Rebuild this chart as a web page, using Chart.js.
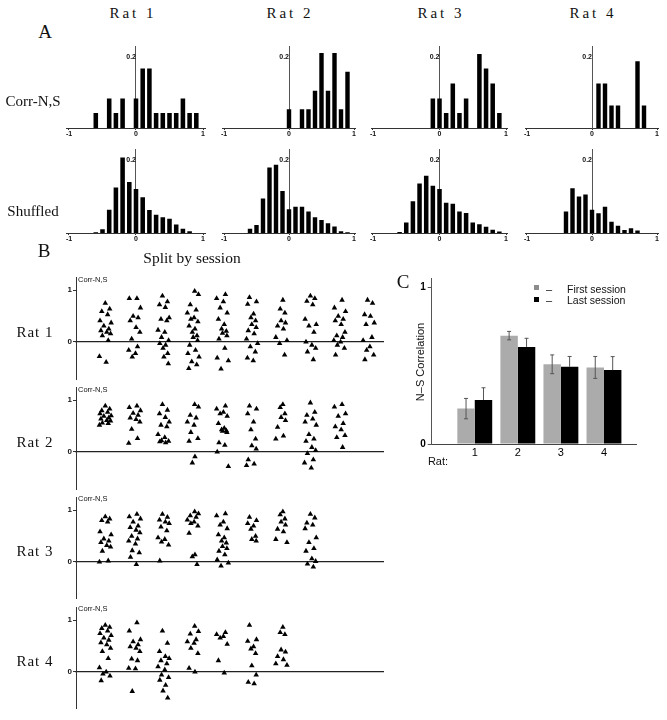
<!DOCTYPE html>
<html>
<head>
<meta charset="utf-8">
<script src="https://cdn.jsdelivr.net/npm/chart.js@4.4.1/dist/chart.umd.min.js"></script>
<style>
body { margin: 0; background: #fff; width: 667px; height: 720px; position: relative; overflow: hidden; }
canvas { position: absolute; }
.t { position: absolute; white-space: nowrap; line-height: 1; color: #111; }
.serif { font-family: "Liberation Serif", "Times New Roman", serif; font-size: 15px; }
.sans { font-family: "Liberation Sans", Arial, sans-serif; }
</style>
</head>
<body>
<script>
// ---- data ----
var RATS = ['Rat 1', 'Rat 2', 'Rat 3', 'Rat 4'];
var BINS = [-1, -0.9, -0.8, -0.7, -0.6, -0.5, -0.4, -0.3, -0.2, -0.1, 0, 0.1, 0.2, 0.3, 0.4, 0.5, 0.6, 0.7, 0.8, 0.9, 1];

// panel A, proportion of pairs per bin (Corr-N,S row)
var CORR_RAT1 = [0, 0, 0, 0, 0.042, 0, 0.083, 0.042, 0.083, 0, 0.083, 0.167, 0.167, 0.042, 0.042, 0.042, 0.042, 0.083, 0.042, 0.042, 0];
var CORR_RAT2 = [0, 0, 0, 0, 0, 0, 0, 0, 0, 0, 0.053, 0, 0.053, 0.053, 0.105, 0.211, 0.105, 0.211, 0.053, 0.158, 0];
var CORR_RAT3 = [0, 0, 0, 0, 0, 0, 0, 0, 0, 0.083, 0.083, 0.042, 0.125, 0.042, 0.083, 0, 0.208, 0.167, 0.125, 0.042, 0];
var CORR_RAT4 = [0, 0, 0, 0, 0, 0, 0, 0, 0, 0, 0, 0.125, 0.125, 0.063, 0.063, 0, 0, 0.188, 0.063, 0, 0];

// panel A, shuffled row
var SHUF_RAT1 = [0, 0, 0, 0, 0.002, 0.01, 0.064, 0.125, 0.207, 0.14, 0.121, 0.098, 0.063, 0.05, 0.043, 0.039, 0.023, 0.012, 0.005, 0, 0];
var SHUF_RAT2 = [0, 0, 0, 0, 0.012, 0.022, 0.095, 0.18, 0.187, 0.115, 0.065, 0.072, 0.072, 0.059, 0.043, 0.036, 0.027, 0.018, 0.005, 0.002, 0];
var SHUF_RAT3 = [0, 0, 0, 0, 0.003, 0.029, 0.087, 0.136, 0.157, 0.13, 0.121, 0.083, 0.08, 0.059, 0.055, 0.029, 0.024, 0.017, 0.009, 0.004, 0];
var SHUF_RAT4 = [0, 0, 0, 0, 0, 0, 0.059, 0.123, 0.1, 0.106, 0.064, 0.054, 0.072, 0.031, 0.02, 0.008, 0.013, 0.007, 0, 0, 0];

// panel B, correlation values per session
var RAT1_SESSIONS = [
  [0.75, 0.64, 0.59, 0.53, 0.41, 0.37, 0.31, 0.25, 0.22, 0.19, 0.16, 0.12, 0.03, -0.28, -0.39],
  [0.84, 0.84, 0.66, 0.5, 0.47, 0.41, 0.28, 0.19, 0.06, -0.09, -0.16, -0.22, -0.29],
  [0.89, 0.78, 0.72, 0.67, 0.47, 0.44, 0.41, 0.23, 0.19, 0.09, 0.03, -0.03, -0.06, -0.12, -0.22, -0.29, -0.42],
  [0.98, 0.92, 0.72, 0.62, 0.56, 0.47, 0.44, 0.39, 0.31, 0.25, 0.19, 0.12, 0.09, 0.03, -0.06, -0.16, -0.22, -0.29, -0.38, -0.44, -0.51],
  [0.92, 0.84, 0.78, 0.66, 0.56, 0.44, 0.34, 0.25, 0.21, 0.17, 0.12, 0.06, -0.12, -0.31, -0.36, -0.52],
  [0.86, 0.78, 0.73, 0.54, 0.47, 0.41, 0.34, 0.28, 0.22, 0.16, 0.06, -0.03, -0.09, -0.19, -0.31, -0.36],
  [0.81, 0.64, 0.56, 0.41, 0.37, 0.31, 0.25, 0.09, 0.03, -0.03, -0.25],
  [0.89, 0.84, 0.79, 0.72, 0.44, 0.34, 0.31, 0.19, 0.0, -0.06, -0.12, -0.19, -0.34],
  [0.81, 0.66, 0.59, 0.5, 0.44, 0.41, 0.34, 0.19, 0.12, 0.09, 0.03, 0.0, -0.06, -0.12, -0.25],
  [0.81, 0.75, 0.53, 0.5, 0.37, 0.34, 0.09, 0.03, -0.09, -0.16, -0.25, -0.34]
];
var RAT2_SESSIONS = [
  [0.89, 0.83, 0.8, 0.77, 0.74, 0.7, 0.69, 0.66, 0.64, 0.61, 0.6, 0.56, 0.55, 0.52],
  [0.89, 0.86, 0.8, 0.75, 0.71, 0.66, 0.63, 0.58, 0.44, 0.26, 0.17],
  [0.92, 0.81, 0.74, 0.67, 0.58, 0.52, 0.49, 0.34, 0.28, 0.22, 0.21, 0.2, 0.18],
  [0.92, 0.87, 0.71, 0.66, 0.58, 0.52, 0.38, 0.26, 0.21, -0.09, -0.21],
  [0.89, 0.83, 0.77, 0.74, 0.69, 0.55, 0.46, 0.43, 0.41, 0.4, 0.38, 0.18, 0.13, 0.0, -0.28],
  [0.89, 0.83, 0.74, 0.58, 0.43, 0.25, 0.12, 0.06, -0.15, -0.23, -0.26],
  [0.92, 0.86, 0.74, 0.67, 0.61, 0.48, 0.31, 0.25],
  [0.95, 0.77, 0.71, 0.64, 0.58, 0.52, 0.34, 0.25, 0.21, 0.09, 0.03, -0.03, -0.15, -0.21, -0.31],
  [0.92, 0.87, 0.74, 0.69, 0.55, 0.49, 0.43, 0.32, 0.28, 0.09]
];
var RAT3_SESSIONS = [
  [0.87, 0.83, 0.8, 0.77, 0.58, 0.52, 0.44, 0.4, 0.37, 0.31, 0.28, 0.2, 0.01, -0.01],
  [0.92, 0.87, 0.83, 0.77, 0.69, 0.66, 0.61, 0.56, 0.49, 0.44, 0.4, 0.34, 0.21, 0.17, 0.08, -0.06],
  [0.92, 0.86, 0.81, 0.77, 0.74, 0.67, 0.6, 0.46, 0.43, 0.38, 0.32, 0.01],
  [0.97, 0.93, 0.89, 0.86, 0.81, 0.77, 0.74, 0.69, 0.55, 0.13, 0.09, -0.06],
  [0.93, 0.89, 0.77, 0.71, 0.64, 0.52, 0.46, 0.4, 0.36, 0.29, 0.25, 0.2, 0.13, 0.03, -0.03, -0.09],
  [0.86, 0.8, 0.74, 0.69, 0.63, 0.49, 0.43, 0.4],
  [0.97, 0.91, 0.83, 0.77, 0.71, 0.63, 0.58, 0.43, 0.37],
  [0.92, 0.85, 0.75, 0.71, 0.64, 0.46, 0.37, 0.25, 0.2, 0.05, 0.0, -0.05, -0.11]
];
var RAT4_SESSIONS = [
  [0.9, 0.86, 0.84, 0.79, 0.74, 0.7, 0.65, 0.61, 0.56, 0.52, 0.45, 0.39, 0.25, 0.07, -0.01, -0.05, -0.09, -0.18],
  [0.95, 0.79, 0.62, 0.58, 0.52, 0.48, 0.45, 0.39, 0.24, 0.21, 0.06, 0.05, -0.39],
  [0.79, 0.55, 0.39, 0.29, 0.25, 0.21, 0.15, 0.09, 0.03, -0.07, -0.12, -0.17, -0.27, -0.38, -0.52],
  [0.88, 0.78, 0.73, 0.62, 0.58, 0.55, 0.45, 0.35, 0.06, -0.01],
  [0.76, 0.72, 0.68, 0.65, 0.53, 0.21, -0.03],
  [0.9, 0.62, 0.59, 0.48, 0.44, 0.35, 0.11, -0.07, -0.21, -0.24],
  [0.86, 0.76, 0.72, 0.42, 0.38, 0.29, 0.23, 0.15, 0.12]
];
// hand set horizontal spread of the triangles inside a session column
var JITTER = [0.0, 0.15, -0.12, 0.08, -0.18, 0.2, -0.05, 0.12, -0.15, 0.05, 0.18, -0.1, 0.1, -0.2, 0.03, -0.08, 0.16, -0.14, 0.06, -0.03, 0.13];

// panel C
var RAT_IDS = [1, 2, 3, 4];
var FIRST_SESSION = [0.226, 0.692, 0.509, 0.489];
var FIRST_ERR = [0.065, 0.027, 0.06, 0.07];
var LAST_SESSION = [0.281, 0.62, 0.493, 0.472];
var LAST_ERR = [0.078, 0.055, 0.066, 0.086];

// ---- setup ----
Chart.defaults.animation = false;
Chart.defaults.responsive = false;
Chart.defaults.plugins.legend.display = false;
Chart.defaults.plugins.tooltip.enabled = false;
Chart.defaults.font.family = '"Liberation Sans", Arial, sans-serif';
Chart.defaults.color = '#111';

function addCanvas(plot, pad) {
  var left = Math.round(plot.l - pad.l), top = Math.round(plot.t - pad.t);
  var right = Math.round(plot.r + pad.r), bottom = Math.round(plot.b + pad.b);
  var c = document.createElement('canvas');
  c.width = right - left;
  c.height = bottom - top;
  c.style.left = left + 'px';
  c.style.top = top + 'px';
  document.body.appendChild(c);
  return { canvas: c, pad: { l: plot.l - left, t: plot.t - top, r: right - plot.r, b: bottom - plot.b } };
}

function text(str, x, y, cls, css, align) {
  var d = document.createElement('div');
  d.className = 't ' + cls;
  d.textContent = str;
  d.style.left = x + 'px';
  d.style.top = y + 'px';
  d.style.transform = align == 'left' ? 'translate(0,-50%)' : 'translate(-50%,-50%)';
  if (css) d.style.cssText += css;
  document.body.appendChild(d);
  return d;
}

function histogram(xm1, xp1, yBase, y02, values) {
  var ppx = (xp1 - xm1) / 2, ppy = (yBase - y02) / 0.2;
  var plot = { l: xm1 - 0.03 * ppx, r: xp1 + 0.03 * ppx, t: yBase - 0.23 * ppy, b: yBase };
  var box = addCanvas(plot, { l: 8, t: 4, r: 8, b: 12 });
  new Chart(box.canvas, {
    type: 'bar',
    data: {
      datasets: [{
        data: BINS.map(function (b, i) { return { x: b, y: values[i] }; }),
        backgroundColor: '#000',
        borderWidth: 0,
        barPercentage: 0.68,
        categoryPercentage: 1
      }]
    },
    options: {
      layout: { padding: { left: box.pad.l, right: box.pad.r, top: box.pad.t, bottom: 0 } },
      scales: {
        x: {
          type: 'linear', min: -1.03, max: 1.03, offset: false,
          afterBuildTicks: function (s) { s.ticks = [{ value: -1 }, { value: 0 }, { value: 1 }]; },
          afterFit: function (s) { s.height = box.pad.b; },
          ticks: { font: { size: 7, weight: 'bold' }, padding: 0, maxRotation: 0, callback: function (v) { return String(v); } },
          grid: { drawOnChartArea: false, offset: false, tickLength: 2, color: '#333' },
          border: { color: '#333' }
        },
        y: {
          min: 0, max: 0.23, position: { x: 0 },
          afterBuildTicks: function (s) { s.ticks = [{ value: 0.2 }]; },
          ticks: { font: { size: 7, weight: 'bold' }, padding: 2, callback: function (v) { return String(v); } },
          grid: { display: false },
          border: { color: '#555' }
        }
      }
    }
  });
}

function sessions(zeroY, cols) {
  var ppx = 29.3, ppy = 54.3;
  var plot = { l: 76, r: 76 + 10.5 * ppx, t: zeroY - 1.24 * ppy, b: zeroY + 0.72 * ppy };
  var box = addCanvas(plot, { l: 14, t: 2, r: 4, b: 4 });
  var pts = [];
  cols.forEach(function (col, ci) {
    col.forEach(function (v, k) {
      pts.push({ x: ci + 1 + JITTER[(k + ci * 3) % JITTER.length], y: v });
    });
  });
  new Chart(box.canvas, {
    type: 'scatter',
    data: { datasets: [{ data: pts, pointStyle: 'triangle', pointRadius: 3.2, backgroundColor: '#000', borderWidth: 0 }] },
    options: {
      layout: { padding: { left: 0, right: box.pad.r, top: box.pad.t, bottom: box.pad.b } },
      scales: {
        x: {
          type: 'linear', min: 0, max: 10.5, position: { y: 0 },
          ticks: { display: false }, grid: { display: false, drawTicks: false },
          border: { color: '#222', width: 1.2 }
        },
        y: {
          min: -0.72, max: 1.24,
          afterBuildTicks: function (s) { s.ticks = [{ value: 0 }, { value: 1 }]; },
          afterFit: function (s) { s.width = box.pad.l; },
          ticks: { font: { size: 8, weight: 'bold' }, padding: 1 },
          grid: { drawOnChartArea: false, tickLength: 3, color: '#333' },
          border: { color: '#333' }
        }
      }
    }
  });
}

var errorBars = {
  id: 'errorBars',
  afterDatasetsDraw: function (chart) {
    var ctx = chart.ctx, y = chart.scales.y;
    [FIRST_ERR, LAST_ERR].forEach(function (errs, d) {
      var meta = chart.getDatasetMeta(d);
      var vals = d == 0 ? FIRST_SESSION : LAST_SESSION;
      meta.data.forEach(function (bar, i) {
        var top = y.getPixelForValue(vals[i] + errs[i]);
        var bot = d == 0 ? y.getPixelForValue(vals[i] - errs[i]) : bar.y;
        ctx.save();
        ctx.strokeStyle = '#555';
        ctx.lineWidth = 1;
        ctx.beginPath();
        ctx.moveTo(bar.x, top); ctx.lineTo(bar.x, bot);
        ctx.moveTo(bar.x - 2, top); ctx.lineTo(bar.x + 2, top);
        if (d == 0) { ctx.moveTo(bar.x - 2, bot); ctx.lineTo(bar.x + 2, bot); }
        ctx.stroke();
        ctx.restore();
      });
    });
  }
};

function sessionBars() {
  var plot = { l: 431.7, r: 636.7, t: 272.6, b: 444 };
  var box = addCanvas(plot, { l: 22, t: 3, r: 6, b: 20 });
  new Chart(box.canvas, {
    type: 'bar',
    data: {
      datasets: [
        { label: 'First session', data: RAT_IDS.map(function (r, i) { return { x: r, y: FIRST_SESSION[i] }; }), backgroundColor: '#ababab' },
        { label: 'Last session', data: RAT_IDS.map(function (r, i) { return { x: r, y: LAST_SESSION[i] }; }), backgroundColor: '#000' }
      ]
    },
    options: {
      barPercentage: 1,
      categoryPercentage: 0.81,
      layout: { padding: { left: 0, right: box.pad.r, top: box.pad.t, bottom: 0 } },
      scales: {
        x: {
          type: 'linear', min: 0, max: 4.76, offset: false,
          afterBuildTicks: function (s) { s.ticks = RAT_IDS.map(function (r) { return { value: r }; }); },
          afterFit: function (s) { s.height = box.pad.b; },
          ticks: { font: { size: 11 }, padding: 2, color: '#000' },
          grid: { display: false, drawTicks: false },
          border: { color: '#444' }
        },
        y: {
          min: 0, max: 1.06,
          afterBuildTicks: function (s) { s.ticks = [{ value: 0 }, { value: 1 }]; },
          afterFit: function (s) { s.width = box.pad.l; },
          ticks: { font: { size: 10, weight: 'bold' }, padding: 2, color: '#000' },
          grid: { drawOnChartArea: false, tickLength: 4, color: '#555' },
          border: { color: '#555' }
        }
      }
    },
    plugins: [errorBars]
  });
}

// ---- panel A ----
var HIST_X = [[69, 203], [224, 354], [373, 506], [527, 657]];
var HIST_TITLE_X = [133, 290, 441, 593];
[CORR_RAT1, CORR_RAT2, CORR_RAT3, CORR_RAT4].forEach(function (v, i) {
  histogram(HIST_X[i][0], HIST_X[i][1], 128, 55, v);
});
[SHUF_RAT1, SHUF_RAT2, SHUF_RAT3, SHUF_RAT4].forEach(function (v, i) {
  histogram(HIST_X[i][0], HIST_X[i][1], 233, 158, v);
});
RATS.forEach(function (r, i) { text(r, HIST_TITLE_X[i], 13, 'serif', 'letter-spacing:3px;'); });
text('A', 45, 31, 'serif', 'font-size:19px;');
text('Corr-N,S', 33, 101, 'serif');
text('Shuffled', 33, 211, 'serif');

// ---- panel B ----
var ZERO_Y = [341.7, 451.5, 561.3, 671.3];
[RAT1_SESSIONS, RAT2_SESSIONS, RAT3_SESSIONS, RAT4_SESSIONS].forEach(function (cols, i) {
  sessions(ZERO_Y[i], cols);
  text(RATS[i], 35, ZERO_Y[i] - 10, 'serif', 'letter-spacing:1px;');
  text('Corr-N,S', 78, ZERO_Y[i] - 62, 'sans', 'font-size:7.5px;', 'left');
});
text('B', 44, 250, 'serif', 'font-size:19px;');
text('Split by session', 192, 258, 'serif', 'font-size:15.5px;');

// ---- panel C ----
sessionBars();
text('C', 403, 281, 'serif', 'font-size:19px;');
text('N\u2013S Correlation', 420, 362, 'sans', 'font-size:11px;transform:translate(-50%,-50%) rotate(-90deg);');
text('Rat:', 438, 461, 'sans', 'font-size:11px;');
var sw1 = document.createElement('div');
sw1.style.cssText = 'position:absolute;left:534px;top:285px;width:5px;height:5px;background:#8c8c8c;';
document.body.appendChild(sw1);
var sw2 = document.createElement('div');
sw2.style.cssText = 'position:absolute;left:534px;top:297px;width:5px;height:5px;background:#000;';
document.body.appendChild(sw2);
text('\u2013', 549, 288.5, 'sans', 'font-size:11px;');
text('\u2013', 549, 299.5, 'sans', 'font-size:11px;');
text('First session', 567, 288.5, 'sans', 'font-size:10.5px;', 'left');
text('Last session', 567, 299.5, 'sans', 'font-size:10.5px;', 'left');
</script>
</body>
</html>
